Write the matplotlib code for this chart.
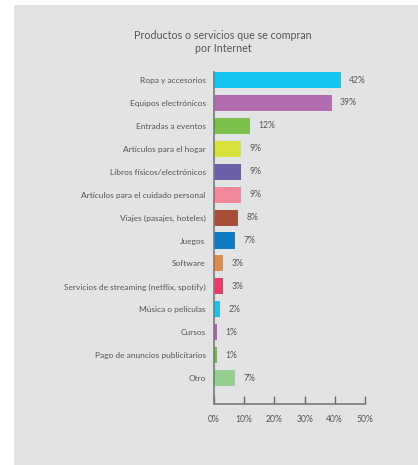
import matplotlib
matplotlib.use("Agg")
import matplotlib.pyplot as plt
from matplotlib.patches import Rectangle

categories = [
    "Ropa y accesorios",
    "Equipos electrónicos",
    "Entradas a eventos",
    "Artículos para el hogar",
    "Libros físicos/electrónicos",
    "Artículos para el cuidado personal",
    "Viajes (pasajes, hoteles)",
    "Juegos",
    "Software",
    "Servicios de streaming (netflix, spotify)",
    "Música o películas",
    "Cursos",
    "Pago de anuncios publicitarios",
    "Otro",
]
values = [42, 39, 12, 9, 9, 9, 8, 7, 3, 3, 2, 1, 1, 7]
colors = [
    "#14c3f0", "#b06cae", "#7bc04a", "#d8e03c", "#6a5fa8", "#f38a9c",
    "#a84e38", "#0f7bc4", "#e08c4c", "#ee3a6a", "#1ec0f0", "#b062b0",
    "#72bc3c", "#93d08f",
]
xticks = [0, 10, 20, 30, 40, 50]
xticklabels = ["0%", "10%", "20%", "30%", "40%", "50%"]
title = "Productos o servicios que se compran\npor Internet"

plt.rcParams["font.family"] = ["Lato", "DejaVu Sans"]
text_color = "#555555"
bg = "#e2e3e5"

fig = plt.figure(figsize=(4.18, 4.65), dpi=100)
fig.patch.set_facecolor("white")

# grey panel behind the chart
bg_ax = fig.add_axes([0, 0, 1, 1], zorder=-1)
bg_ax.set_xlim(0, 418)
bg_ax.set_ylim(465, 0)
bg_ax.axis("off")
bg_ax.add_patch(Rectangle((14, 5), 404, 460, facecolor=bg, edgecolor="none"))

ax = fig.add_axes([214 / 418, 1 - 404 / 465, 151 / 418, 332 / 465], zorder=1)
ax.set_facecolor("none")

ypos = list(range(len(categories)))
ax.barh(ypos, values, height=0.7, color=colors, zorder=2)
for y, v in zip(ypos, values):
    ax.annotate(f"{v}%", (v, y), xytext=(6, 0), textcoords="offset points",
                va="center", ha="left", fontsize=6.2, color=text_color)

ax.set_ylim(14.13, -0.35)
ax.set_xlim(0, 50)
ax.set_yticks(ypos)
ax.set_yticklabels(categories, fontsize=6.0, color=text_color)
ax.tick_params(axis="y", length=0, pad=6)
ax.set_xticks(xticks)
ax.set_xticklabels(xticklabels, fontsize=6.2, color=text_color)
ax.tick_params(axis="x", direction="in", length=6, width=1, color="#666666",
               pad=8)

for side in ("top", "right"):
    ax.spines[side].set_visible(False)
for side in ("left", "bottom"):
    ax.spines[side].set_color("#7a7a7a")
    ax.spines[side].set_linewidth(1.2)

fig.text(223 / 418, 1 - 42 / 465, title, ha="center", va="center",
         fontsize=7.7, color=text_color, linespacing=1.3)

fig.savefig("out.png", dpi=100)
